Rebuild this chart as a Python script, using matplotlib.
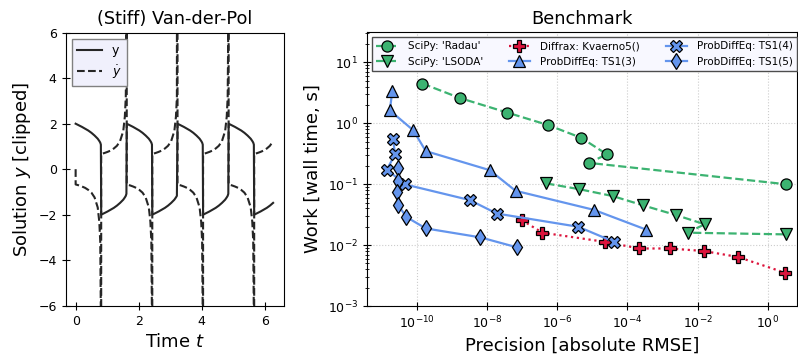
import numpy as np
import matplotlib
matplotlib.use('Agg')
import matplotlib.pyplot as plt
from matplotlib.ticker import LogLocator, NullLocator

# Van-der-Pol solution
jump_times = [0.81, 1.62, 2.43, 3.23, 4.04, 4.85, 5.66]
t_end = 6.3
branch_dt = [0.0, 0.1, 0.2, 0.3, 0.4, 0.5, 0.6, 0.7, 0.75, 0.78, 0.80]
branch_y = [2.0, 1.93, 1.86, 1.78, 1.70, 1.60, 1.48, 1.34, 1.24, 1.17, 1.08]
branch_dy = [-0.67, -0.71, -0.76, -0.82, -0.91, -1.03, -1.24, -1.68, -2.31, -3.17, -6.5]
dy_start = 0.0
dy_spike = 60.0

# benchmark: precision (RMSE) and work (wall time)
radau_prec = [1.45e-10, 1.7e-9, 3.8e-8, 5.4e-7, 4.8e-6, 2.6e-5, 8.1e-6, 3.3]
radau_work = [4.5, 2.6, 1.5, 0.94, 0.58, 0.31, 0.224, 0.10]
lsoda_prec = [4.9e-7, 4.2e-6, 3.8e-5, 2.8e-4, 2.5e-3, 1.6e-2, 5.2e-3, 3.3]
lsoda_work = [0.103, 0.083, 0.064, 0.045, 0.031, 0.022, 0.016, 0.015]
kvaerno_prec = [9.8e-8, 3.8e-7, 2.3e-5, 2.2e-4, 1.6e-3, 1.5e-2, 0.14, 3.2]
kvaerno_work = [0.0257, 0.016, 0.0113, 0.0088, 0.0088, 0.0080, 0.0064, 0.0035]
ts3_prec = [2.0e-11, 1.7e-11, 7.9e-11, 1.8e-10, 1.2e-8, 6.5e-8, 1.1e-5, 3.4e-4]
ts3_work = [3.4, 1.63, 0.77, 0.35, 0.17, 0.078, 0.038, 0.018]
ts4_prec = [2.1e-11, 2.4e-11, 1.4e-11, 4.7e-11, 3.2e-9, 1.9e-8, 4.0e-6, 4.2e-5]
ts4_work = [0.55, 0.31, 0.174, 0.099, 0.055, 0.033, 0.020, 0.0113]
ts5_prec = [2.9e-11, 2.9e-11, 2.8e-11, 3.0e-11, 5.0e-11, 1.8e-10, 6.5e-9, 7.1e-8]
ts5_work = [0.185, 0.113, 0.074, 0.045, 0.029, 0.0188, 0.0134, 0.0092]

COLORS = {
    'scipy': 'mediumseagreen',
    'diffrax': 'crimson',
    'probdiffeq': 'cornflowerblue',
}


def build_solution():
    starts = [0.0] + jump_times
    ends = jump_times + [t_end]
    ts, ys, ts_dy, dys = [], [], [0.0], [dy_start]
    sign = 1.0
    for k, (s, e) in enumerate(zip(starts, ends)):
        for dt, y, dy in zip(branch_dt, branch_y, branch_dy):
            if s + dt <= e:
                ts.append(s + dt)
                ys.append(sign * y)
                ts_dy.append(s + dt)
                dys.append(sign * dy)
        if k < len(jump_times):
            ts_dy.append(e)
            dys.append(sign * -dy_spike)
        sign = -sign
    return np.array(ts), np.array(ys), np.array(ts_dy), np.array(dys)


plt.rcParams['font.family'] = 'DejaVu Sans'
fig = plt.figure(figsize=(7.98, 3.61), dpi=100)
W, H = 798.0, 361.0
ax1 = fig.add_axes([65.7 / W, 1 - 305.7 / H, 218.6 / W, 273.0 / H])
ax2 = fig.add_axes([367.0 / W, 1 - 306.0 / H, 430.0 / W, 274.0 / H])

# left panel
t, y, t_dy, dy = build_solution()
ax1.plot(t, y, color='0.15', linestyle='-', lw=1.5, label='y')
ax1.plot(t_dy, dy, color='0.15', linestyle='--', lw=1.5, label=r'$\dot y$')
ax1.set_ylim(-6, 6)
ax1.set_xlim(-0.315, 6.615)
ax1.set_yticks([-6, -4, -2, 0, 2, 4, 6])
ax1.set_xticks([0, 2, 4, 6])
ax1.set_title('(Stiff) Van-der-Pol', fontsize=12.8)
ax1.set_xlabel('Time $t$', fontsize=13)
ax1.set_ylabel('Solution $y$ [clipped]', fontsize=13)
ax1.legend(loc='upper left', fontsize=9, facecolor='#f0f0fc',
           edgecolor='0.5', framealpha=1.0, fancybox=False)

# right panel
mk = dict(markersize=8, markeredgecolor='black', markeredgewidth=0.9, lw=1.6)
ax2.plot(radau_prec, radau_work, linestyle='--', marker='o',
         color=COLORS['scipy'], label="SciPy: 'Radau'", **mk)
ax2.plot(lsoda_prec, lsoda_work, linestyle='--', marker='v',
         color=COLORS['scipy'], label="SciPy: 'LSODA'", **mk)
ax2.plot(kvaerno_prec, kvaerno_work, linestyle=':', marker='P',
         color=COLORS['diffrax'], label='Diffrax: Kvaerno5()', **mk)
ax2.plot(ts3_prec, ts3_work, linestyle='-', marker='^',
         color=COLORS['probdiffeq'], label='ProbDiffEq: TS1(3)', **mk)
ax2.plot(ts4_prec, ts4_work, linestyle='-', marker='X',
         color=COLORS['probdiffeq'], label='ProbDiffEq: TS1(4)', **mk)
ax2.plot(ts5_prec, ts5_work, linestyle='-', marker='d',
         color=COLORS['probdiffeq'], label='ProbDiffEq: TS1(5)', **mk)
ax2.set_xscale('log')
ax2.set_yscale('log')
ax2.set_xlim(10 ** -11.42, 10 ** 0.835)
ax2.set_ylim(1e-3, 10 ** 1.5)
ax2.set_xticks([10.0 ** k for k in range(-10, 1, 2)])
ax2.xaxis.set_minor_locator(NullLocator())
ax2.yaxis.set_major_locator(LogLocator(base=10, numticks=10))
ax2.yaxis.set_minor_locator(LogLocator(base=10, subs=np.arange(2, 10), numticks=20))
ax2.grid(which='major', linestyle=':', color='0.8', lw=0.8)
ax2.set_title('Benchmark', fontsize=12.8)
ax2.set_xlabel('Precision [absolute RMSE]', fontsize=13)
ax2.set_ylabel('Work [wall time, s]', fontsize=13)
ax2.legend(loc='upper left', ncol=3, fontsize=7.5, facecolor='#f8f8ff',
           edgecolor='0.3', framealpha=1.0, fancybox=False,
           handletextpad=1.0, columnspacing=2.5, labelspacing=0.5)

for ax in (ax1, ax2):
    ax.tick_params(which='major', direction='inout', length=6, labelsize=9)
    ax.tick_params(which='minor', direction='inout', length=3.5)

fig.savefig('out.png', dpi=100)
